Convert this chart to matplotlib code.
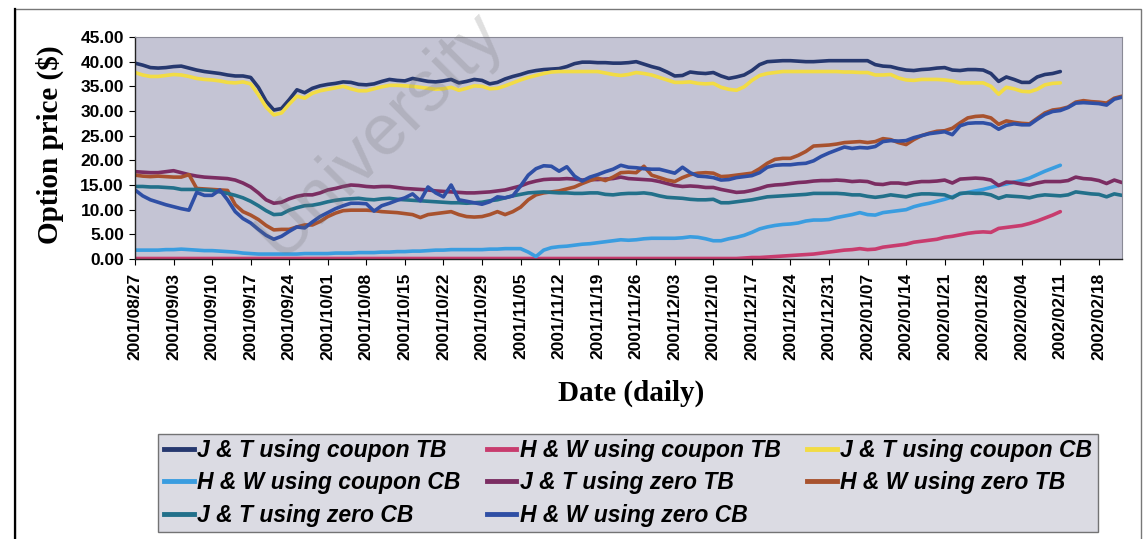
import numpy as np
import matplotlib
matplotlib.use("Agg")
import matplotlib.pyplot as plt
from matplotlib.patches import Rectangle
from matplotlib.lines import Line2D

# weekly tick labels (every 5th trading day)
tick_labels = ["2001/08/27", "2001/09/03", "2001/09/10", "2001/09/17", "2001/09/24",
               "2001/10/01", "2001/10/08", "2001/10/15", "2001/10/22", "2001/10/29",
               "2001/11/05", "2001/11/12", "2001/11/19", "2001/11/26", "2001/12/03",
               "2001/12/10", "2001/12/17", "2001/12/24", "2001/12/31", "2002/01/07",
               "2002/01/14", "2002/01/21", "2002/01/28", "2002/02/04", "2002/02/11",
               "2002/02/18"]

# option prices, one value per trading day
jt_coupon_tb = [39.7, 39.3, 38.8, 38.7, 38.8, 39.0, 39.1, 38.7, 38.3, 38.0,
                37.8, 37.6, 37.3, 37.1, 37.1, 36.8, 34.8, 32.0, 30.2, 30.5,
                32.3, 34.3, 33.7, 34.6, 35.1, 35.4, 35.6, 35.9, 35.8, 35.4,
                35.3, 35.5, 36.0,
                36.4, 36.2, 36.1, 36.6, 36.3, 36.0, 35.9, 36.1, 36.4, 35.7,
                36.0, 36.4, 36.2, 35.5, 35.8, 36.5, 37.0, 37.4, 37.9, 38.2,
                38.4, 38.5, 38.6, 39.0, 39.6, 39.9, 39.9, 39.8, 39.8, 39.7, 39.7,
                39.8, 40.0, 39.5, 39.0, 38.6, 37.9, 37.1, 37.2, 37.9, 37.7,
                37.6, 37.8, 37.1, 36.6, 36.9, 37.3, 38.2, 39.4, 40.0, 40.1,
                40.2, 40.2, 40.1, 40.0, 40.0, 40.1, 40.2, 40.2, 40.2, 40.2, 40.2,
                40.2, 39.4, 39.1, 39.0, 38.6, 38.3, 38.2, 38.4, 38.5, 38.7,
                38.8, 38.3, 38.2, 38.4, 38.4, 38.3, 37.6, 36.0, 36.9, 36.4,
                35.8, 35.8, 36.9, 37.4, 37.6, 38.0]

hw_coupon_tb = [0.1, 0.1, 0.1, 0.1, 0.1, 0.1, 0.1, 0.1, 0.1, 0.1,
                0.1, 0.1, 0.1, 0.1, 0.1, 0.1, 0.1, 0.1, 0.1, 0.1,
                0.1, 0.1, 0.1, 0.1, 0.1, 0.1, 0.1, 0.1, 0.1, 0.1,
                0.1, 0.1, 0.1, 0.1, 0.1, 0.1, 0.1, 0.1, 0.1, 0.1,
                0.1, 0.1, 0.1, 0.1, 0.1, 0.1, 0.1, 0.1, 0.1, 0.1,
                0.1, 0.1, 0.1, 0.1, 0.1, 0.1, 0.1, 0.1, 0.1, 0.1,
                0.1, 0.1, 0.1, 0.1, 0.1, 0.1, 0.1, 0.1, 0.1, 0.1,
                0.1, 0.1, 0.1, 0.1, 0.1, 0.1, 0.1, 0.1, 0.1,
                0.2, 0.3, 0.3, 0.4, 0.5, 0.6, 0.7, 0.8, 0.9, 1.0,
                1.2, 1.4, 1.6, 1.8, 1.9, 2.1,
                1.9, 2.0, 2.4, 2.6, 2.8, 3.0, 3.4, 3.6, 3.8, 4.0,
                4.4, 4.6, 4.9, 5.2, 5.4, 5.5, 5.4, 6.2, 6.4, 6.6,
                6.8, 7.2, 7.7, 8.3, 8.9, 9.6]

jt_coupon_cb = [37.8, 37.3, 37.0, 37.0, 37.2, 37.4, 37.3, 37.0, 36.6, 36.4,
                36.3, 36.1, 35.8, 35.7, 35.9, 35.5, 33.3, 30.8, 29.2, 29.6,
                31.4, 33.0, 32.6, 33.6, 34.1, 34.4, 34.7, 35.0, 34.5, 34.1,
                34.1, 34.5, 34.9,
                35.2, 35.2, 35.1, 35.0, 34.8, 34.6, 34.4, 34.5, 34.8, 34.2,
                34.6, 35.1, 35.0, 34.5, 34.6, 35.1, 35.7, 36.3, 36.8, 37.2,
                37.6, 37.9, 38.0, 38.0, 38.0, 38.0, 38.0, 38.0, 37.7, 37.4, 37.2,
                37.4, 37.8, 37.6, 37.3, 36.8, 36.3, 35.8, 35.8, 35.9, 35.6,
                35.5, 35.6, 34.8, 34.4, 34.2, 34.9, 36.2, 37.2, 37.6, 37.8,
                38.0, 38.0, 38.0, 38.0, 38.0, 38.0, 38.0, 38.0, 37.9, 37.9, 37.8,
                37.8, 37.3, 37.3, 37.4, 36.7, 36.3, 36.2, 36.4, 36.4, 36.4,
                36.3, 36.1, 35.7, 35.7, 35.7, 35.7, 35.0, 33.4, 34.8, 34.5,
                34.0, 33.9, 34.4, 35.3, 35.6, 35.7]

hw_coupon_cb = [1.8, 1.8, 1.8, 1.8, 1.9, 1.9, 2.0, 1.9, 1.8, 1.7,
                1.7, 1.6, 1.5, 1.4, 1.2, 1.1, 1.0, 1.0, 1.0, 1.0,
                1.0, 1.0, 1.1, 1.1, 1.1, 1.1, 1.2, 1.2, 1.2, 1.3, 1.3,
                1.3, 1.4, 1.4, 1.5, 1.5, 1.6, 1.6, 1.7, 1.8, 1.8,
                1.9, 1.9, 1.9, 1.9, 1.9, 2.0, 2.0, 2.1, 2.1, 2.1,
                1.4, 0.5, 1.8, 2.3, 2.5, 2.6, 2.8, 3.0, 3.1, 3.3,
                3.5, 3.7, 3.9,
                3.8, 3.9, 4.1, 4.2, 4.2, 4.2, 4.2, 4.3, 4.5, 4.4,
                4.1, 3.7, 3.7, 4.1, 4.4, 4.8, 5.4, 6.1, 6.5, 6.8,
                7.0, 7.1, 7.3, 7.7, 7.9, 7.9, 8.0, 8.4, 8.7, 9.0, 9.4,
                9.0, 8.9, 9.4, 9.6, 9.8, 10.0, 10.6, 11.0, 11.3, 11.7,
                12.1, 12.6, 13.2, 13.5, 13.8, 14.1, 14.5, 14.9, 15.2, 15.6,
                15.9, 16.4, 17.1, 17.8, 18.4, 19.0]

jt_zero_tb = [17.7, 17.6, 17.5, 17.5, 17.7, 17.9, 17.5, 17.1, 16.8, 16.6,
              16.5, 16.4, 16.3, 16.0, 15.4, 14.6, 13.4, 12.0, 11.3, 11.5,
              12.2, 12.7, 13.0, 13.0, 13.4, 14.0, 14.3, 14.7, 15.0, 14.9,
              14.7, 14.6, 14.7,
              14.7, 14.5, 14.3, 14.2, 14.1, 14.0, 13.8, 13.7, 13.6, 13.5,
              13.4, 13.4, 13.5, 13.6, 13.8, 14.0, 14.4, 14.8, 15.4, 15.8,
              16.1, 16.2, 16.2, 16.3, 16.2, 16.0, 16.1, 16.1, 16.2, 16.3, 16.6,
              16.3, 16.2, 16.1, 16.0, 15.7, 15.3, 14.9, 14.7, 14.8, 14.7,
              14.5, 14.5, 14.1, 13.8, 13.5, 13.6, 13.9, 14.3, 14.8, 15.0,
              15.1, 15.3, 15.5, 15.6, 15.8, 15.9, 15.9, 16.0, 15.9, 15.7, 15.8,
              15.7, 15.2, 15.1, 15.4, 15.4, 15.2, 15.5, 15.7, 15.7, 15.8,
              16.0, 15.4, 16.2, 16.3, 16.4, 16.3, 16.0, 14.9, 15.6, 15.5,
              15.2, 15.0, 15.4, 15.7, 15.7, 15.7, 15.9, 16.6, 16.3, 16.2,
              15.9, 15.3, 16.0, 15.5]

hw_zero_tb = [17.0, 16.8, 16.7, 16.8, 16.7, 16.6, 16.6, 17.1, 14.3, 14.2,
              14.1, 14.0, 13.9, 11.0, 9.6, 8.9, 8.0, 6.8, 5.9, 6.0,
              6.0, 6.5, 6.9, 6.9, 7.6, 8.6, 9.3, 9.8, 9.9, 9.9,
              9.9, 9.8, 9.6,
              9.5, 9.4, 9.2, 9.0, 8.4, 9.0, 9.2, 9.4, 9.6, 9.0,
              8.6, 8.5, 8.6, 9.0, 9.6, 9.0, 9.6, 10.5, 12.0, 13.0,
              13.4, 13.6, 13.8, 14.2, 14.6, 15.3, 15.9, 16.4, 15.9, 16.6, 17.5,
              17.6, 17.5, 18.8, 17.0, 16.5, 16.0, 15.7, 16.5, 17.1, 17.4,
              17.5, 17.4, 16.7, 16.8, 17.0, 17.2, 17.4, 18.3, 19.4, 20.2,
              20.4, 20.4, 21.0, 21.8, 22.9, 23.0, 23.1, 23.3, 23.6, 23.7, 23.8,
              23.6, 23.8, 24.4, 24.2, 23.6, 23.2, 24.2, 25.0, 25.5, 25.9,
              26.0, 26.5, 27.6, 28.6, 28.9, 29.0, 28.6, 27.3, 28.0, 27.7,
              27.5, 27.4, 28.5, 29.6, 30.2, 30.4, 30.8, 31.8, 32.1, 31.9,
              31.8, 31.6, 32.6, 33.0]

jt_zero_cb = [14.7, 14.7, 14.6, 14.6, 14.5, 14.4, 14.1, 14.1, 14.1, 14.0,
              13.9, 13.6, 13.3, 12.9, 12.4, 11.7, 10.8, 9.8, 9.0, 9.1,
              9.9, 10.4, 10.8, 10.9, 11.2, 11.6, 11.9, 12.1, 12.2, 12.3,
              12.1, 12.0, 12.2,
              12.3, 12.1, 12.0, 11.9, 11.8, 11.7, 11.6, 11.5, 11.4, 11.4,
              11.3, 11.4, 11.5, 11.8, 12.0, 12.4, 12.8, 13.1, 13.4, 13.5,
              13.6, 13.5, 13.4, 13.4, 13.3, 13.3, 13.4, 13.4, 13.1, 13.0, 13.2,
              13.3, 13.3, 13.4, 13.2, 12.8, 12.5, 12.4, 12.3, 12.1, 12.0,
              12.0, 12.1, 11.4, 11.4, 11.6, 11.8, 12.0, 12.3, 12.6, 12.7,
              12.8, 12.9, 13.0, 13.1, 13.3, 13.3, 13.3, 13.3, 13.2, 13.0, 13.0,
              12.7, 12.5, 12.7, 13.0, 12.8, 12.6, 13.0, 13.2, 13.2, 13.1,
              13.0, 12.4, 13.3, 13.4, 13.3, 13.3, 13.0, 12.3, 12.8, 12.7,
              12.6, 12.4, 12.8, 13.0, 12.9, 12.8, 13.0, 13.6, 13.4, 13.2,
              13.1, 12.6, 13.2, 12.9]

hw_zero_cb = [14.0, 12.8, 12.0, 11.5, 11.0, 10.6, 10.2, 9.9, 13.5, 12.9,
              12.9, 14.0, 12.0, 9.6, 8.2, 7.3, 6.0, 4.8, 4.0, 4.6,
              5.6, 6.5, 6.3, 7.5, 8.6, 9.4, 10.2, 10.8, 11.3, 11.3,
              11.2, 9.7, 10.8,
              11.3, 11.9, 12.4, 13.2, 11.8, 14.6, 13.4, 12.6, 15.0, 12.0,
              11.7, 11.4, 11.1, 11.6, 12.6, 12.4, 12.8, 14.8, 17.0, 18.3,
              18.9, 18.8, 17.8, 18.7, 16.8, 15.8, 16.6, 17.1, 17.7, 18.2, 19.0,
              18.6, 18.5, 18.3, 18.2, 18.2, 17.8, 17.4, 18.6, 17.5, 16.8,
              16.7, 16.5, 16.0, 16.1, 16.5, 16.7, 16.9, 17.5, 18.6, 19.0,
              19.1, 19.1, 19.3, 19.4, 19.9, 20.8, 21.5, 22.1, 22.7, 22.4, 22.6,
              22.5, 22.8, 23.8, 24.0, 23.9, 24.0, 24.6, 25.0, 25.4, 25.6,
              25.8, 25.2, 27.0, 27.5, 27.6, 27.6, 27.3, 26.3, 27.1, 27.4,
              27.2, 27.2, 28.3, 29.3, 29.9, 30.1, 30.7, 31.6, 31.7, 31.6,
              31.5, 31.2, 32.4, 32.8]

series = [
    ("J & T using coupon TB", jt_coupon_tb, "#26386f"),
    ("H & W using coupon TB", hw_coupon_tb, "#c83c6e"),
    ("J & T using coupon CB", jt_coupon_cb, "#f2dc44"),
    ("H & W using coupon CB", hw_coupon_cb, "#3a9de0"),
    ("J & T using zero TB", jt_zero_tb, "#7b2d62"),
    ("H & W using zero TB", hw_zero_tb, "#a8522e"),
    ("J & T using zero CB", jt_zero_cb, "#22708a"),
    ("H & W using zero CB", hw_zero_cb, "#2f4fa5"),
]

W, H = 1148, 539
fig = plt.figure(figsize=(W / 100, H / 100), dpi=100)
fig.patch.set_facecolor("white")

ax = fig.add_axes([135 / W, 1 - 259 / H, (1122 - 135) / W, (259 - 37) / H])
ax.set_facecolor("#c4c4d4")

handles = {}
for name, vals, col in series:
    ln, = ax.plot(np.arange(len(vals)), vals, color=col, lw=2.6,
                  solid_joinstyle="round", solid_capstyle="round")
    handles[name] = ln

ax.set_xlim(0, 128)
ax.set_ylim(0, 45)
ax.set_yticks(np.arange(0, 46, 5))
ax.set_yticklabels([f"{v:.2f}" for v in np.arange(0, 46, 5)],
                   fontfamily="Liberation Sans", fontweight="bold", fontsize=12.5)
ax.set_xticks(np.arange(0, 5 * len(tick_labels), 5))
ax.set_xticklabels(tick_labels, rotation=90, fontfamily="Liberation Sans",
                   fontweight="bold", fontsize=12.5, va="top", ha="center")
ax.tick_params(axis="y", length=4, width=0.8, pad=4, colors="black")
ax.tick_params(axis="x", length=4, width=0.8, pad=6, colors="black")
for side in ["top", "right"]:
    ax.spines[side].set_color("#8a8a96")
    ax.spines[side].set_linewidth(0.8)
for side in ["left", "bottom"]:
    ax.spines[side].set_color("#222222")
    ax.spines[side].set_linewidth(1.0)

fig.text(50 / W, 1 - 145 / H, "Option price ($)", rotation=90, ha="center",
         va="center", fontfamily="Liberation Serif", fontweight="bold", fontsize=21)
fig.text(631 / W, 1 - 393 / H, "Date (daily)", ha="center", va="center",
         fontfamily="Liberation Serif", fontweight="bold", fontsize=21)

# legend filled column by column, so reorder to get Excel's row order
order = ["J & T using coupon TB", "H & W using coupon CB", "J & T using zero CB",
         "H & W using coupon TB", "J & T using zero TB", "H & W using zero CB",
         "J & T using coupon CB", "H & W using zero TB"]
leg_handles = [Line2D([], [], color=handles[n].get_color(), lw=3.5) for n in order]
leg = fig.legend(leg_handles, order, ncol=3, mode="expand", loc="center",
                 bbox_to_anchor=(158 / W, 1 - 530 / H, (1098 - 158) / W, (530 - 436) / H),
                 prop={"family": "Liberation Sans", "weight": "bold",
                       "style": "italic", "size": 16.5},
                 handlelength=1.3, handletextpad=0.15, labelspacing=0.4,
                 borderpad=0.25, borderaxespad=0, fancybox=False, frameon=True)
leg.get_frame().set_facecolor("#d2d2dc")
leg.get_frame().set_edgecolor("#555555")
leg.get_frame().set_linewidth(1.0)

# outer chart border
fig.add_artist(Rectangle((15 / W, -0.05), (1141 - 15) / W, 1 - 9 / H + 0.05,
                         transform=fig.transFigure, fill=False,
                         edgecolor="#777777", lw=1.0))
fig.add_artist(Line2D([15 / W, 15 / W], [0, 1 - 9 / H], transform=fig.transFigure,
                      color="black", lw=1.6))

# faint scanned watermark
fig.text(380 / W, 1 - 135 / H, "University", rotation=45, ha="center", va="center",
         fontfamily="Liberation Sans", fontsize=52, color="#6e6e6e", alpha=0.22)

fig.savefig("out.png", dpi=100)
